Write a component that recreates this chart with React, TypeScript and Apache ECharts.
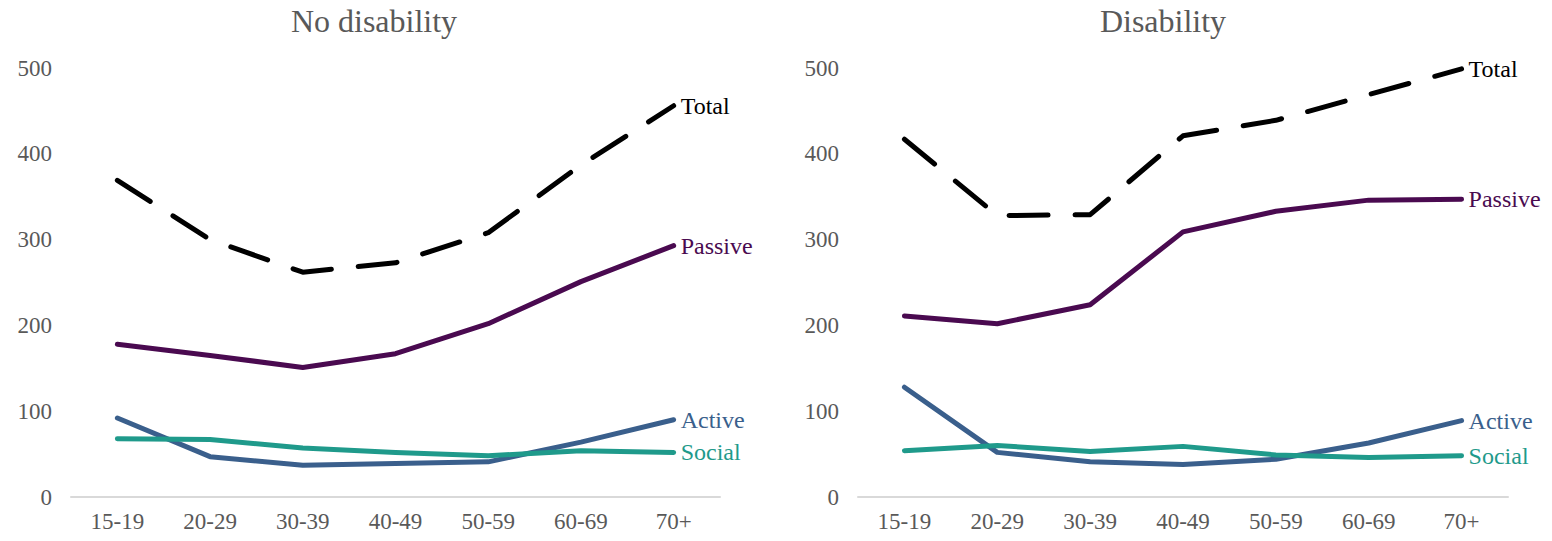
import React, { useEffect, useRef } from "react";
import * as echarts from "echarts";

const categories = ["15-19", "20-29", "30-39", "40-49", "50-59", "60-69", "70+"];

const noDisTotal = [369, 300, 262, 273, 308, 387, 456];
const noDisPassive = [178, 165, 151, 167, 202, 251, 293];
const noDisActive = [92, 47, 37, 39, 41, 64, 90];
const noDisSocial = [68, 67, 57, 52, 48, 54, 52];

const disTotal = [417, 328, 329, 421, 439, 469, 499];
const disPassive = [211, 202, 224, 309, 333, 346, 347];
const disActive = [128, 52, 41, 38, 44, 63, 89];
const disSocial = [54, 60, 53, 59, 49, 46, 48];

const titles = ["No disability", "Disability"];
const yTicks = { min: 0, max: 500, interval: 100 };

const FONT = "'Liberation Serif', 'Times New Roman', serif";
const GREY = "#595959";
const colors = { Total: "#000000", Passive: "#4a0a50", Active: "#3a5f8c", Social: "#1f9a8b" };

function makeSeries(name: string, data: number[], idx: number) {
  const color = (colors as any)[name];
  return {
    type: "line",
    name,
    data,
    xAxisIndex: idx,
    yAxisIndex: idx,
    symbol: "none",
    lineStyle: {
      color,
      width: 5,
      type: name === "Total" ? [39, 27] : "solid",
      cap: "round",
      join: "round",
    },
    itemStyle: { color },
    endLabel: {
      show: true,
      formatter: "{a}",
      color,
      fontFamily: FONT,
      fontSize: 24,
      distance: 7,
    },
    z: name === "Total" ? 1 : 2,
  };
}

export default function App() {
  const ref = useRef<HTMLDivElement>(null);
  useEffect(() => {
    if (!ref.current) return;
    const chart = echarts.init(ref.current, undefined, { renderer: "svg" });
    const axisLabel = { color: GREY, fontFamily: FONT, fontSize: 23 };
    const xAxisBase = {
      type: "category",
      data: categories,
      boundaryGap: true,
      axisTick: { show: false },
      axisLine: { lineStyle: { color: "#d9d9d9", width: 2 } },
      axisLabel: { ...axisLabel, margin: 13 },
    };
    const yAxisBase = {
      type: "value",
      min: yTicks.min,
      max: yTicks.max,
      interval: yTicks.interval,
      splitLine: { show: false },
      axisLine: { show: false },
      axisTick: { show: false },
      axisLabel: { ...axisLabel, margin: 19 },
    };
    const titleStyle = { fontFamily: FONT, fontSize: 32, fontWeight: "normal", color: GREY };
    chart.setOption({
      animation: false,
      backgroundColor: "#ffffff",
      title: [
        { text: titles[0], left: 369, top: 0, textAlign: "center", textStyle: titleStyle },
        { text: titles[1], left: 1158, top: 0, textAlign: "center", textStyle: titleStyle },
      ],
      grid: [
        { left: 71, width: 649, top: 68, height: 429 },
        { left: 858, width: 650, top: 68, height: 429 },
      ],
      xAxis: [
        { ...xAxisBase, gridIndex: 0 },
        { ...xAxisBase, gridIndex: 1 },
      ],
      yAxis: [
        { ...yAxisBase, gridIndex: 0 },
        { ...yAxisBase, gridIndex: 1 },
      ],
      series: [
        makeSeries("Total", noDisTotal, 0),
        makeSeries("Passive", noDisPassive, 0),
        makeSeries("Active", noDisActive, 0),
        makeSeries("Social", noDisSocial, 0),
        makeSeries("Total", disTotal, 1),
        makeSeries("Passive", disPassive, 1),
        makeSeries("Active", disActive, 1),
        makeSeries("Social", disSocial, 1),
      ],
    });
    return () => chart.dispose();
  }, []);
  return (
    <div
      ref={ref}
      style={{ position: "fixed", left: 0, top: 0, width: 1552, height: 541, background: "#fff" }}
    />
  );
}
